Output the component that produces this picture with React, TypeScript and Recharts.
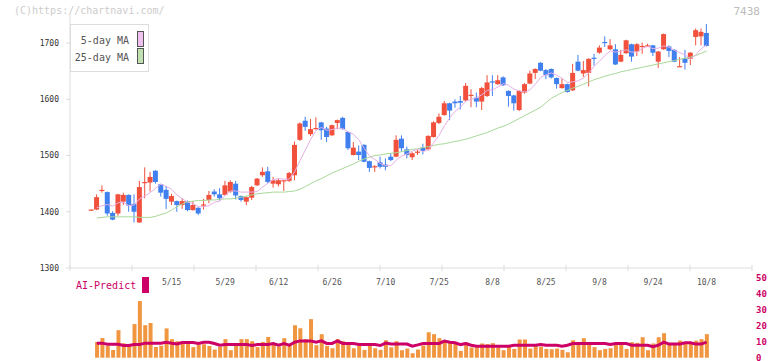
import { ComposedChart, Bar, Line, XAxis, YAxis, ReferenceLine } from 'recharts'

// trading days, 2025/4/21 - 10/8
const dates = (
  '4/21 4/22 4/23 4/24 4/25 4/28 4/30 ' +
  '5/1 5/2 5/7 5/8 5/9 5/12 5/13 5/14 5/15 5/16 5/19 5/20 5/21 5/22 5/23 5/26 5/27 5/28 5/29 5/30 ' +
  '6/2 6/3 6/4 6/5 6/6 6/9 6/10 6/11 6/12 6/13 6/16 6/17 6/18 6/19 6/20 6/23 6/24 6/25 6/26 6/27 6/30 ' +
  '7/1 7/2 7/3 7/4 7/7 7/8 7/9 7/10 7/11 7/14 7/15 7/16 7/17 7/18 7/22 7/23 7/24 7/25 7/28 7/29 7/30 7/31 ' +
  '8/1 8/4 8/5 8/6 8/7 8/8 8/12 8/13 8/14 8/15 8/18 8/19 8/20 8/21 8/22 8/25 8/26 8/27 8/28 8/29 ' +
  '9/1 9/2 9/3 9/4 9/5 9/8 9/9 9/10 9/11 9/12 9/16 9/17 9/18 9/19 9/22 9/24 9/25 9/26 9/29 9/30 ' +
  '10/1 10/2 10/3 10/6 10/7 10/8'
).split(' ')

const opens = [
  1402, 1404, 1437, 1435, 1398, 1397, 1418, 1430, 1414, 1381,
  1451, 1452, 1473, 1449, 1439, 1418, 1419, 1412, 1419, 1403,
  1407, 1411, 1421, 1436, 1431, 1430, 1436, 1450, 1428, 1418,
  1425, 1447, 1465, 1472, 1450, 1449, 1454, 1455, 1465, 1528,
  1562, 1538, 1547, 1559, 1548, 1536, 1558, 1567, 1542, 1501,
  1507, 1519, 1490, 1479, 1488, 1484, 1498, 1498, 1530, 1511,
  1497, 1505, 1514, 1511, 1533, 1558, 1572, 1593, 1596, 1597,
  1598, 1606, 1603, 1596, 1606, 1632, 1627, 1639, 1615, 1607,
  1581, 1612, 1628, 1647, 1665, 1652, 1654, 1638, 1620, 1627,
  1616, 1667, 1646, 1647, 1674, 1683, 1702, 1689, 1689, 1667,
  1682, 1698, 1685, 1693, 1694, 1696, 1667, 1689, 1694, 1688,
  1658, 1673, 1672, 1711, 1712, 1718,
]
const highs = [
  1404, 1431, 1447, 1436, 1401, 1432, 1434, 1431, 1431, 1455,
  1479, 1471, 1474, 1450, 1446, 1432, 1420, 1424, 1420, 1419,
  1409, 1423, 1437, 1440, 1442, 1455, 1456, 1455, 1429, 1427,
  1446, 1460, 1479, 1480, 1462, 1459, 1456, 1471, 1525, 1559,
  1569, 1565, 1568, 1560, 1551, 1555, 1564, 1569, 1543, 1524,
  1518, 1520, 1491, 1483, 1498, 1495, 1504, 1536, 1536, 1516,
  1506, 1510, 1521, 1536, 1561, 1575, 1597, 1594, 1600, 1606,
  1629, 1618, 1612, 1622, 1643, 1643, 1643, 1641, 1616, 1608,
  1616, 1629, 1651, 1655, 1666, 1654, 1655, 1639, 1637, 1628,
  1663, 1679, 1668, 1673, 1681, 1696, 1712, 1707, 1698, 1688,
  1706, 1699, 1700, 1701, 1699, 1697, 1686, 1717, 1696, 1689,
  1675, 1688, 1684, 1726, 1726, 1734,
]
const lows = [
  1402, 1403, 1434, 1393, 1385, 1393, 1412, 1400, 1381, 1380,
  1424, 1436, 1450, 1427, 1405, 1412, 1400, 1405, 1401, 1402,
  1394, 1404, 1415, 1427, 1420, 1429, 1434, 1422, 1418, 1412,
  1421, 1446, 1462, 1450, 1443, 1445, 1437, 1453, 1456, 1526,
  1544, 1535, 1546, 1528, 1524, 1535, 1547, 1546, 1510, 1500,
  1492, 1488, 1471, 1471, 1477, 1474, 1490, 1497, 1507, 1495,
  1492, 1501, 1502, 1509, 1532, 1556, 1571, 1563, 1585, 1582,
  1596, 1586, 1586, 1581, 1604, 1606, 1626, 1624, 1587, 1580,
  1579, 1610, 1627, 1636, 1650, 1636, 1637, 1619, 1619, 1612,
  1615, 1650, 1640, 1623, 1660, 1681, 1693, 1688, 1661, 1666,
  1681, 1667, 1677, 1681, 1693, 1677, 1656, 1688, 1675, 1666,
  1658, 1653, 1661, 1696, 1696, 1694,
]
const closes = [
  1404, 1426, 1439, 1397, 1386, 1431, 1430, 1411, 1400, 1444,
  1453, 1462, 1453, 1434, 1423, 1428, 1412, 1419, 1403, 1412,
  1397, 1413, 1430, 1431, 1424, 1447, 1453, 1429, 1421, 1426,
  1444, 1459, 1471, 1453, 1456, 1456, 1456, 1469, 1519, 1557,
  1551, 1547, 1549, 1545, 1533, 1554, 1563, 1547, 1513, 1514,
  1501, 1489, 1478, 1481, 1480, 1480, 1492, 1528, 1513, 1501,
  1504, 1507, 1508, 1535, 1559, 1569, 1593, 1580, 1593, 1594,
  1624, 1608, 1596, 1620, 1630, 1630, 1634, 1625, 1606, 1593,
  1615, 1627, 1646, 1654, 1651, 1643, 1639, 1627, 1627, 1613,
  1647, 1651, 1652, 1672, 1672, 1692, 1700, 1696, 1662, 1679,
  1705, 1676, 1698, 1695, 1696, 1683, 1685, 1716, 1686, 1667,
  1659, 1665, 1683, 1723, 1720, 1695,
]
const ma5 = [
  null, 1407, 1411, 1413, 1410, 1416, 1417, 1411, 1412, 1423,
  1428, 1434, 1442, 1449, 1445, 1440, 1430, 1423, 1417, 1415,
  1409, 1409, 1411, 1417, 1419, 1429, 1437, 1437, 1435, 1435,
  1435, 1436, 1444, 1451, 1457, 1459, 1458, 1458, 1471, 1491,
  1510, 1529, 1545, 1550, 1545, 1546, 1549, 1548, 1542, 1538,
  1528, 1513, 1499, 1493, 1486, 1482, 1482, 1492, 1499, 1503,
  1508, 1511, 1507, 1511, 1523, 1536, 1553, 1567, 1579, 1586,
  1597, 1600, 1603, 1608, 1616, 1617, 1622, 1628, 1625, 1618,
  1615, 1613, 1617, 1627, 1639, 1644, 1647, 1643, 1637, 1630,
  1631, 1633, 1638, 1647, 1659, 1668, 1678, 1686, 1684, 1686,
  1688, 1684, 1684, 1691, 1694, 1690, 1691, 1695, 1693, 1687,
  1683, 1679, 1672, 1679, 1690, 1697,
]
const ma25 = [
  null, 1389, 1390, 1391, 1391, 1391, 1391, 1391, 1391, 1390,
  1390, 1390, 1392, 1395, 1398, 1403, 1409, 1414, 1418, 1419,
  1420, 1420, 1421, 1421, 1422, 1423, 1423, 1424, 1426, 1428,
  1430, 1432, 1433, 1434, 1435, 1435, 1435, 1436, 1437, 1440,
  1445, 1450, 1455, 1459, 1464, 1469, 1473, 1477, 1481, 1485,
  1490, 1494, 1497, 1500, 1501, 1503, 1504, 1505, 1507, 1509,
  1511, 1512, 1514, 1516, 1518, 1520, 1521, 1523, 1525, 1527,
  1529, 1532, 1535, 1538, 1541, 1545, 1549, 1552, 1556, 1561,
  1566, 1571, 1576, 1581, 1586, 1594, 1602, 1607, 1612, 1616,
  1620, 1623, 1627, 1631, 1635, 1638, 1641, 1644, 1646, 1649,
  1651, 1653, 1655, 1657, 1659, 1661, 1663, 1665, 1667, 1669,
  1671, 1673, 1675, 1678, 1682, 1686,
]
const volumes = [
  null, 9.8, 12.3, 7.5, 4.8, 17.2, 9.0, 7.5, 21.0, 35.4,
  20.3, 21.7, 6.7, 7.5, 18.3, 11.6, 10.3, 10.1, 9.2, 6.6,
  8.2, 8.4, 7.3, 5.1, 6.8, 11.6, 4.7, 7.4, 11.6, 11.6,
  10.3, 6.6, 9.9, 13.0, 8.6, 7.0, 12.2, 7.8, 20.3, 18.4,
  11.6, 24.1, 7.8, 14.7, 7.4, 5.9, 11.6, 10.3, 8.6, 5.9,
  7.4, 4.9, 7.4, 5.9, 4.9, 10.9, 6.5, 10.3, 4.7, 5.7,
  2.8, 5.1, 7.6, 15.9, 14.7, 12.2, 10.9, 9.3, 8.9, 4.3,
  9.7, 6.4, 6.4, 8.9, 8.5, 9.1, 6.4, 4.7, 7.2, 5.5,
  11.4, 11.4, 5.7, 7.2, 6.8, 5.5, 5.3, 5.7, 4.9, 3.4,
  10.9, 9.7, 12.2, 9.7, 6.6, 4.7, 5.5, 5.9, 9.3, 9.3,
  5.5, 9.7, 9.3, 12.8, 4.7, 8.9, 12.8, 15.3, 8.6, 8.6,
  10.7, 9.3, 9.3, 10.7, 11.6, 14.7,
]
const aiPredict = [
  null, 9.1, 9.1, 8.4, 8.4, 8.4, 7.6, 7.6, 8.2, 8.2,
  9.1, 9.1, 9.1, 9.1, 9.7, 9.0, 8.6, 9.5, 9.5, 9.5,
  8.9, 9.7, 9.7, 8.9, 7.8, 8.2, 8.2, 8.2, 8.2, 8.2,
  7.6, 8.2, 8.2, 8.2, 8.9, 7.8, 8.9, 7.8, 9.7, 10.5,
  10.5, 10.5, 9.7, 10.5, 8.9, 8.9, 10.5, 8.9, 8.9, 8.9,
  8.2, 8.2, 8.2, 8.2, 7.6, 9.1, 8.5, 8.5, 8.5, 8.5,
  7.2, 8.0, 8.9, 8.9, 8.9, 8.9, 10.4, 9.7, 9.3, 8.2,
  8.9, 7.8, 7.2, 7.2, 7.2, 7.2, 7.2, 7.2, 7.2, 7.8,
  7.8, 7.8, 7.8, 7.8, 8.2, 7.8, 7.8, 7.8, 7.2, 7.8,
  8.9, 8.9, 8.9, 8.9, 8.9, 8.9, 8.9, 8.2, 8.9, 8.9,
  8.9, 7.8, 7.8, 7.8, 7.8, 6.9, 7.8, 9.7, 8.5, 8.5,
  8.5, 9.3, 9.3, 8.5, 8.5, 9.7,
]

const dateLabels = ['5/15', '5/29', '6/12', '6/26', '7/10', '7/25', '8/8', '8/25', '9/8', '9/24', '10/8']
const priceTicks = [1300, 1400, 1500, 1600, 1700]
const volTicks = [0, 10, 20, 30, 40, 50]

const RED = '#f0503c'
const BLUE = '#4080ee'
const MAGENTA = '#cc0066'
const FONT = '"DejaVu Sans Mono", monospace'

const X_MIN = -4
const X_MAX = 123.5
const gridTicks = Array.from({ length: 12 }, (_, k) => X_MIN + (k * (X_MAX - X_MIN)) / 11)
const labelTicks = dateLabels.map((d) => dates.indexOf(d))

const rows = dates.map((date, i) => ({
  idx: i,
  date,
  open: opens[i],
  high: highs[i],
  low: lows[i],
  close: closes[i],
  range: [lows[i], highs[i]],
  ma5: ma5[i],
  ma25: ma25[i],
  vol: volumes[i],
  ai: aiPredict[i],
}))

const Candle = (props: any) => {
  const { x, y, width, height, payload } = props
  const { open, close, high, low } = payload
  const color = close >= open ? RED : BLUE
  const top = Math.min(y, y + height)
  const h = Math.abs(height)
  const k = high > low ? h / (high - low) : 0
  const bodyTop = top + (high - Math.max(open, close)) * k
  const bodyH = Math.max(1.2, Math.abs(close - open) * k)
  const cx = x + width / 2
  return (
    <g>
      <line x1={cx} x2={cx} y1={top} y2={top + h} stroke={color} strokeWidth={1} />
      <rect x={x} y={bodyTop} width={width} height={bodyH} fill={color} />
    </g>
  )
}

// volume axis labels; the bottom one is kept inside the picture
const VolTick = (props: any) => {
  const { x, y, payload } = props
  return (
    <text x={x + 4} y={Math.min(y, 353.5)} dy="0.35em" fontSize={9} fontWeight="bold" fill={MAGENTA} fontFamily={FONT}>
      {payload.value}
    </text>
  )
}

const legendSwatch = (bg: string, top: number) => ({
  position: 'absolute' as const,
  left: 66,
  top,
  width: 5,
  height: 14,
  background: bg,
  border: '1px solid #555',
})

const App = () => {
  return (
    <div style={{ position: 'absolute', left: 0, top: 0, width: 772, height: 361, background: '#fff', fontFamily: FONT }}>
      <div style={{ position: 'absolute', left: 0, top: 0 }}>
        <ComposedChart width={772} height={300} data={rows} margin={{ top: 15, right: 20, bottom: 0, left: 0 }}>
          <XAxis
            dataKey="idx"
            type="number"
            domain={[X_MIN, X_MAX]}
            ticks={labelTicks}
            tickFormatter={(v: number) => dates[v]}
            tick={{ fontSize: 8, fill: '#555', fontFamily: FONT }}
            tickLine={false}
            tickSize={0}
            tickMargin={11}
            axisLine={{ stroke: '#ddd' }}
            height={32}
            interval={0}
          />
          <YAxis
            domain={[1300, 1750]}
            ticks={priceTicks}
            width={70}
            tick={{ fontSize: 8, fill: '#333', fontFamily: FONT }}
            tickSize={4}
            tickMargin={7}
            tickLine={{ stroke: '#ddd' }}
            axisLine={{ stroke: '#ddd' }}
            interval={0}
          />
          {gridTicks.map((t) => (
            <ReferenceLine
              key={t}
              segment={[
                { x: t, y: 1305.5 },
                { x: t, y: 1294.5 },
              ]}
              stroke="#ddd"
              ifOverflow="visible"
            />
          ))}
          <Line dataKey="ma25" stroke="#a8d898" strokeWidth={1} dot={false} isAnimationActive={false} />
          <Line dataKey="ma5" stroke="#e6b0e6" strokeWidth={1} dot={false} isAnimationActive={false} />
          <Bar dataKey="range" barSize={5} shape={Candle} isAnimationActive={false} />
        </ComposedChart>
      </div>

      <div style={{ position: 'absolute', left: 0, top: 270 }}>
        <ComposedChart width={772} height={91} data={rows} margin={{ top: 7.7, right: 0, bottom: 3.3, left: 70 }}>
          <XAxis dataKey="idx" type="number" domain={[X_MIN, X_MAX]} hide />
          <YAxis
            orientation="right"
            domain={[0, 50]}
            ticks={volTicks}
            width={20}
            tick={<VolTick />}
            tickLine={false}
            axisLine={false}
            tickSize={0}
            tickMargin={0}
            interval={0}
          />
          <Bar dataKey="vol" fill="#f09640" barSize={4} isAnimationActive={false} />
          <Line dataKey="ai" stroke={MAGENTA} strokeWidth={3} dot={false} isAnimationActive={false} />
        </ComposedChart>
      </div>

      <div style={{ position: 'absolute', left: 14, top: 5, fontSize: 10, color: '#ccc', lineHeight: '12px' }}>
        (C)https://chartnavi.com/
      </div>
      <div style={{ position: 'absolute', right: 12, top: 5, fontSize: 11, color: '#bbb', lineHeight: '13px' }}>
        7438
      </div>

      <div
        style={{
          position: 'absolute',
          left: 70,
          top: 24,
          width: 79,
          height: 48,
          boxSizing: 'border-box',
          border: '1px solid #ddd',
          background: '#fff',
          fontSize: 10,
          color: '#555',
        }}
      >
        <div style={{ position: 'absolute', right: 19, top: 10, lineHeight: '12px' }}>5-day MA</div>
        <div style={legendSwatch('#f0c0f0', 6)} />
        <div style={{ position: 'absolute', right: 19, top: 27, lineHeight: '12px' }}>25-day MA</div>
        <div style={legendSwatch('#c0e0b0', 23)} />
      </div>

      <div style={{ position: 'absolute', left: 76, top: 280, fontSize: 10, color: MAGENTA, lineHeight: '12px' }}>
        AI-Predict
      </div>
      <div style={{ position: 'absolute', left: 142, top: 277, width: 7, height: 16, background: MAGENTA }} />
    </div>
  )
}

export default App
